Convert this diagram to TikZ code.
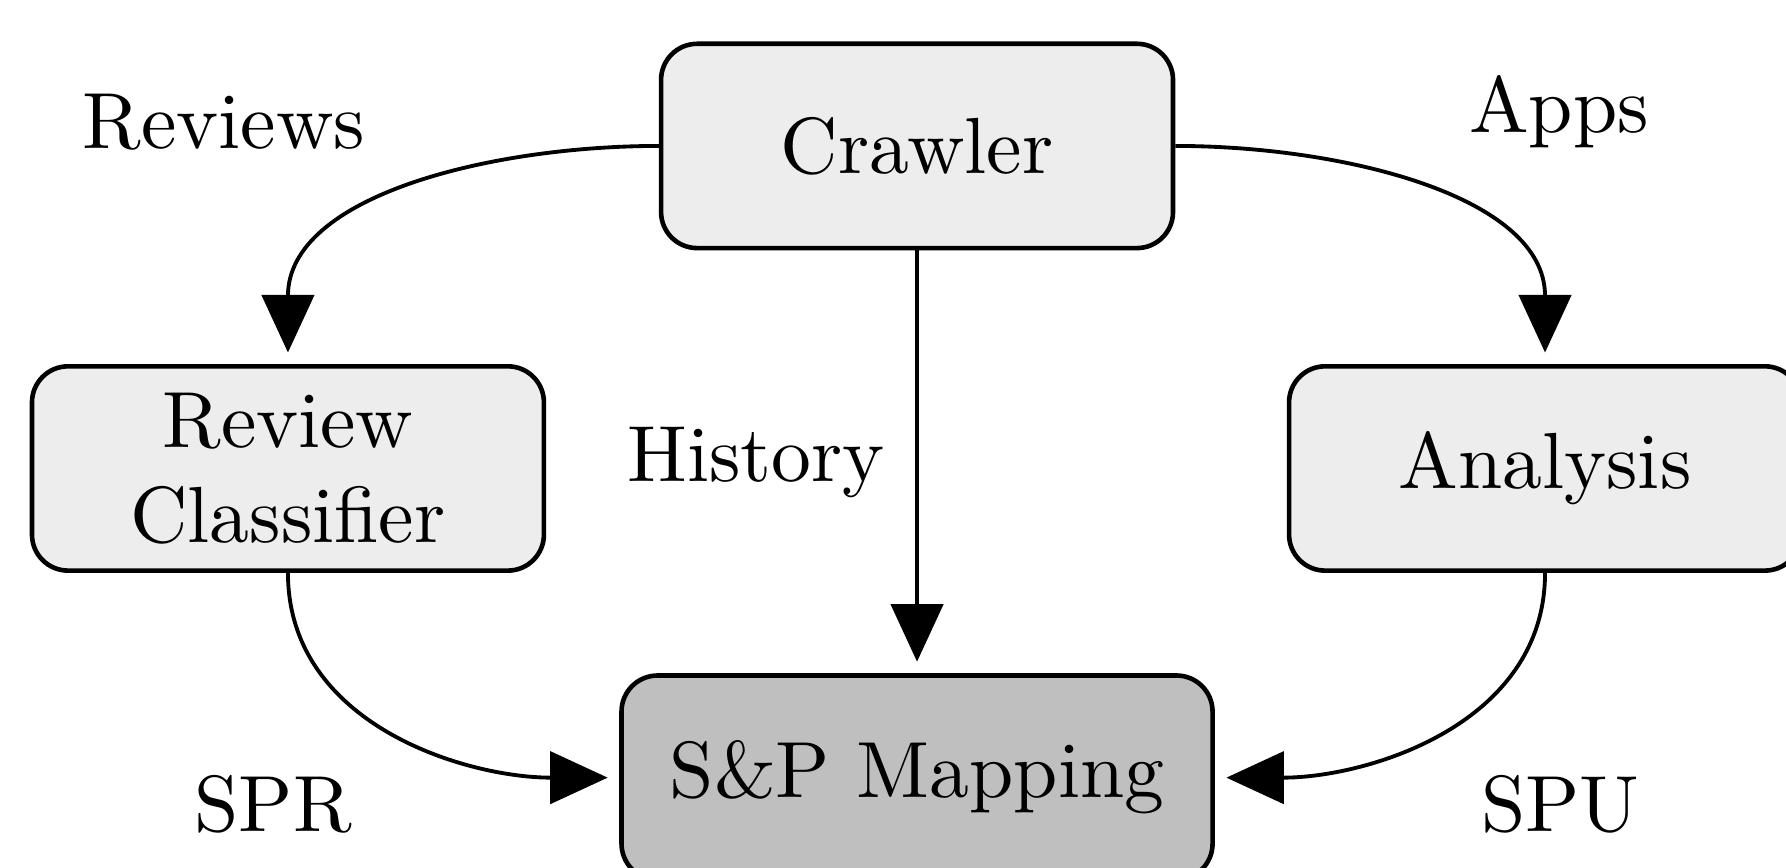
\documentclass[tikz,border=0pt]{standalone}
\usepackage{tikz}
\usetikzlibrary{positioning, arrows.meta}

\begin{document}
\begin{tikzpicture}[font=\fontsize{10.37pt}{12.3pt}\selectfont,
  block/.style={draw, line width=0.6pt, rounded corners=4.7pt, fill=black!7, align=center, minimum width=2.343cm, minimum height=0.935cm},
  flow/.style={-{Triangle[width=6.8pt,length=7.5pt]}, line width=0.5pt, shorten >=1.5pt}]
\useasboundingbox (-4.197,0.668) rectangle (3.977,-3.304);
\node [block] (crawler) at (0,0) {Crawler};
\node [block, below left=0.52cm and 0.515cm of crawler] (classifier) {Review\\Classifier};
\node [block, below right=0.52cm and 0.51cm of crawler] (analysis) {Analysis};
\node [block, fill=black!25, minimum width=2.705cm, below=1.935cm of crawler] (mapping) {S\&P Mapping};
\node [anchor=base] (reviews) at (-3.172,-0.01) {Reviews};
\node [anchor=base] (apps) at (2.938,0.06) {Apps};
\node [anchor=base] (history) at (-0.737,-1.538) {History};
\node [anchor=base] (spr) at (-2.947,-3.137) {SPR};
\node [anchor=base] (spu) at (2.945,-3.137) {SPU};
\draw [flow] (crawler.west) to[out=180, in=90] (classifier.north);
\draw [flow] (crawler.east) to[out=0, in=90] (analysis.north);
\draw [flow] (crawler.south) -- (mapping.north);
\draw [flow] (classifier.south) to[out=-90, in=180] (mapping.west);
\draw [flow] (analysis.south) to[out=-90, in=0] (mapping.east);
\end{tikzpicture}
\end{document}
